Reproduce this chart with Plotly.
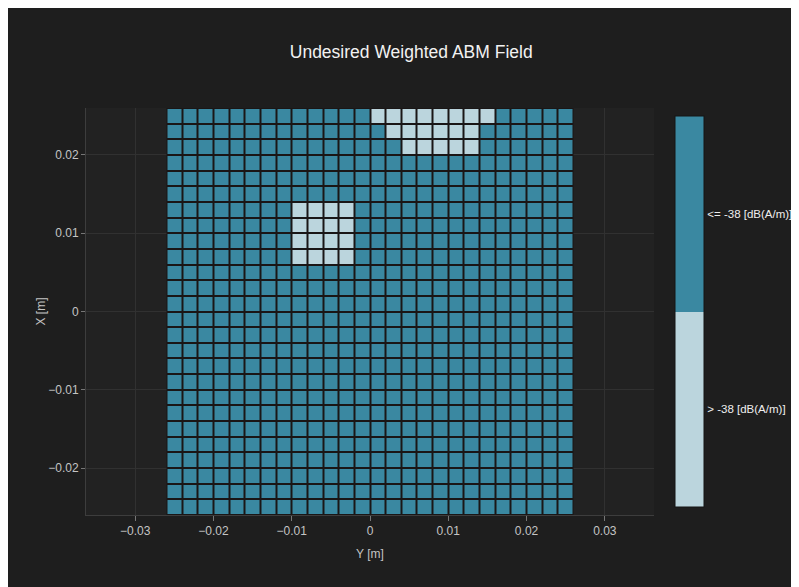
import plotly.graph_objects as go

# Cell centres [m]
y_positions = [-0.025, -0.023, -0.021, -0.019, -0.017, -0.015, -0.013, -0.011, -0.009,
               -0.007, -0.005, -0.003, -0.001, 0.001, 0.003, 0.005, 0.007, 0.009,
               0.011, 0.013, 0.015, 0.017, 0.019, 0.021, 0.023, 0.025]
x_positions = [-0.025, -0.023, -0.021, -0.019, -0.017, -0.015, -0.013, -0.011, -0.009,
               -0.007, -0.005, -0.003, -0.001, 0.001, 0.003, 0.005, 0.007, 0.009,
               0.011, 0.013, 0.015, 0.017, 0.019, 0.021, 0.023, 0.025]

# Class per cell: 1 = "<= -38", 0 = "> -38"; rows listed from x = -0.025 (bottom) to 0.025 (top)
field_class = [
    [1,1,1,1,1,1,1,1,1,1,1,1,1,1,1,1,1,1,1,1,1,1,1,1,1,1],  # -0.025
    [1,1,1,1,1,1,1,1,1,1,1,1,1,1,1,1,1,1,1,1,1,1,1,1,1,1],  # -0.023
    [1,1,1,1,1,1,1,1,1,1,1,1,1,1,1,1,1,1,1,1,1,1,1,1,1,1],  # -0.021
    [1,1,1,1,1,1,1,1,1,1,1,1,1,1,1,1,1,1,1,1,1,1,1,1,1,1],  # -0.019
    [1,1,1,1,1,1,1,1,1,1,1,1,1,1,1,1,1,1,1,1,1,1,1,1,1,1],  # -0.017
    [1,1,1,1,1,1,1,1,1,1,1,1,1,1,1,1,1,1,1,1,1,1,1,1,1,1],  # -0.015
    [1,1,1,1,1,1,1,1,1,1,1,1,1,1,1,1,1,1,1,1,1,1,1,1,1,1],  # -0.013
    [1,1,1,1,1,1,1,1,1,1,1,1,1,1,1,1,1,1,1,1,1,1,1,1,1,1],  # -0.011
    [1,1,1,1,1,1,1,1,1,1,1,1,1,1,1,1,1,1,1,1,1,1,1,1,1,1],  # -0.009
    [1,1,1,1,1,1,1,1,1,1,1,1,1,1,1,1,1,1,1,1,1,1,1,1,1,1],  # -0.007
    [1,1,1,1,1,1,1,1,1,1,1,1,1,1,1,1,1,1,1,1,1,1,1,1,1,1],  # -0.005
    [1,1,1,1,1,1,1,1,1,1,1,1,1,1,1,1,1,1,1,1,1,1,1,1,1,1],  # -0.003
    [1,1,1,1,1,1,1,1,1,1,1,1,1,1,1,1,1,1,1,1,1,1,1,1,1,1],  # -0.001
    [1,1,1,1,1,1,1,1,1,1,1,1,1,1,1,1,1,1,1,1,1,1,1,1,1,1],  # 0.001
    [1,1,1,1,1,1,1,1,1,1,1,1,1,1,1,1,1,1,1,1,1,1,1,1,1,1],  # 0.003
    [1,1,1,1,1,1,1,1,1,1,1,1,1,1,1,1,1,1,1,1,1,1,1,1,1,1],  # 0.005
    [1,1,1,1,1,1,1,1,0,0,0,0,1,1,1,1,1,1,1,1,1,1,1,1,1,1],  # 0.007
    [1,1,1,1,1,1,1,1,0,0,0,0,1,1,1,1,1,1,1,1,1,1,1,1,1,1],  # 0.009
    [1,1,1,1,1,1,1,1,0,0,0,0,1,1,1,1,1,1,1,1,1,1,1,1,1,1],  # 0.011
    [1,1,1,1,1,1,1,1,0,0,0,0,1,1,1,1,1,1,1,1,1,1,1,1,1,1],  # 0.013
    [1,1,1,1,1,1,1,1,1,1,1,1,1,1,1,1,1,1,1,1,1,1,1,1,1,1],  # 0.015
    [1,1,1,1,1,1,1,1,1,1,1,1,1,1,1,1,1,1,1,1,1,1,1,1,1,1],  # 0.017
    [1,1,1,1,1,1,1,1,1,1,1,1,1,1,1,1,1,1,1,1,1,1,1,1,1,1],  # 0.019
    [1,1,1,1,1,1,1,1,1,1,1,1,1,1,1,0,0,0,0,0,1,1,1,1,1,1],  # 0.021
    [1,1,1,1,1,1,1,1,1,1,1,1,1,1,0,0,0,0,0,0,1,1,1,1,1,1],  # 0.023
    [1,1,1,1,1,1,1,1,1,1,1,1,1,0,0,0,0,0,0,0,0,1,1,1,1,1],  # 0.025
]

class_values = [0.25, 0.75]
class_labels = ["> -38 [dB(A/m)]", "<= -38 [dB(A/m)]"]

LIGHT = "#bbd5dd"
DARK = "#3a88a1"
GAP = "#1a1616"
TEXT = "#c4c4c4"
FONT = "Arial, Liberation Sans, sans-serif"

# dark backing layer under the cells so the gaps between cells read as dark lines
backing = go.Heatmap(
    x=y_positions,
    y=x_positions,
    z=[[0 for _ in row] for row in field_class],
    colorscale=[[0, GAP], [1, GAP]],
    showscale=False,
    hoverinfo="skip",
)

cells = go.Heatmap(
    x=y_positions,
    y=x_positions,
    z=field_class,
    zmin=0,
    zmax=1,
    xgap=2,
    ygap=2,
    colorscale=[[0, LIGHT], [0.5, LIGHT], [0.5, DARK], [1, DARK]],
    colorbar=dict(
        tickvals=class_values,
        ticktext=class_labels,
        thickness=29,
        ypad=8,
        xref="container",
        x=667 / 800,
        xanchor="left",
        xpad=0,
        outlinewidth=1,
        outlinecolor="#151515",
        tickfont=dict(color="#eeeeee", size=11.5, family=FONT),
    ),
)

fig = go.Figure([backing, cells])

fig.update_layout(
    width=800,
    height=590,
    margin=dict(l=78, r=154, t=100, b=83),
    paper_bgcolor="#1e1e1e",
    plot_bgcolor="#222222",
    font=dict(family=FONT, color=TEXT, size=12),
    title=dict(
        text="Undesired Weighted ABM Field",
        x=0.504,
        xanchor="center",
        xref="container",
        y=1 - 44 / 590,
        yref="container",
        yanchor="middle",
        font=dict(size=17.5, color="#f2f2f2", family=FONT),
    ),
    xaxis=dict(
        title=dict(text="Y [m]", font=dict(size=12, color=TEXT), standoff=12),
        dtick=0.01,
        tick0=0,
        showgrid=True,
        gridcolor="#313131",
        zeroline=False,
        showline=True,
        linecolor="#3d3d3d",
        ticks="outside",
        ticklen=5,
        tickcolor="#777777",
        tickfont=dict(size=12, color=TEXT),
    ),
    yaxis=dict(
        title=dict(text="X [m]", font=dict(size=12, color=TEXT), standoff=0),
        dtick=0.01,
        tick0=0,
        scaleanchor="x",
        scaleratio=1,
        showgrid=True,
        gridcolor="#313131",
        zeroline=False,
        showline=True,
        linecolor="#3d3d3d",
        ticks="outside",
        ticklen=4,
        tickcolor="#777777",
        tickfont=dict(size=12, color=TEXT),
    ),
)

fig.write_html("out.html", post_script="document.body.style.overflow='hidden';")
